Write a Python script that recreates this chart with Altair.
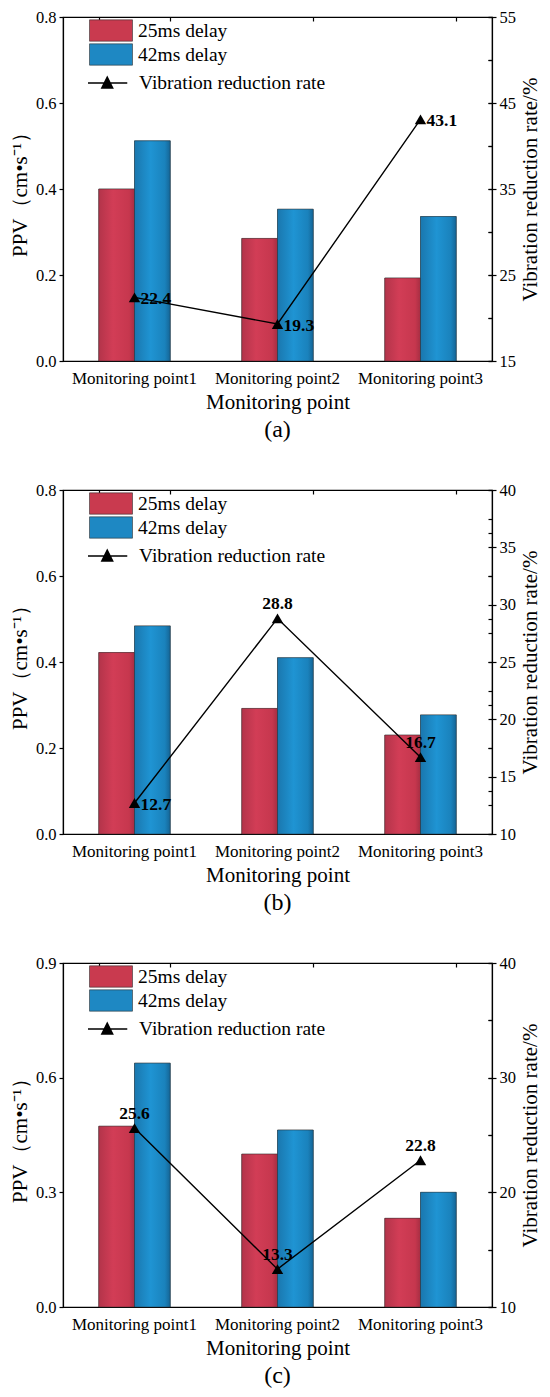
import altair as alt
import pandas as pd

categories = ["Monitoring point1", "Monitoring point2", "Monitoring point3"]
series = ["25ms delay", "42ms delay"]
line_name = "Vibration reduction rate"

# panel (a)
ppv_a_25 = [0.400, 0.285, 0.193]
ppv_a_42 = [0.512, 0.353, 0.336]
rate_a = [22.4, 19.3, 43.1]
# panel (b)
ppv_b_25 = [0.422, 0.292, 0.230]
ppv_b_42 = [0.484, 0.410, 0.277]
rate_b = [12.7, 28.8, 16.7]
# panel (c)
ppv_c_25 = [0.473, 0.400, 0.232]
ppv_c_42 = [0.638, 0.463, 0.300]
rate_c = [25.6, 13.3, 22.8]

# axis ticks (major, and inner ticks incl. minor)
ppv_ticks_ab = [0.0, 0.2, 0.4, 0.6, 0.8]
ppv_inner_ab = [0.0, 0.1, 0.2, 0.3, 0.4, 0.5, 0.6, 0.7, 0.8]
ppv_ticks_c = [0.0, 0.3, 0.6, 0.9]
ppv_inner_c = [0.0, 0.15, 0.3, 0.45, 0.6, 0.75, 0.9]
rate_ticks_a = [15, 25, 35, 45, 55]
rate_inner_a = [15, 20, 25, 30, 35, 40, 45, 50, 55]
rate_ticks_b = [10, 15, 20, 25, 30, 35, 40]
rate_inner_b = [10, 12.5, 15, 17.5, 20, 22.5, 25, 27.5, 30, 32.5, 35, 37.5, 40]
rate_ticks_c = [10, 20, 30, 40]
rate_inner_c = [10, 15, 20, 25, 30, 35, 40]

# label placement (style)
sides_a = ["right", "right", "right"]
sides_b = ["right", "above", "above"]
sides_c = ["above", "above", "above"]

SERIF = "Liberation Serif"
RED = "#C93A4F"
BLUE = "#1E88C3"
GRAD_RED = {"gradient": "linear", "x1": 0, "x2": 1, "y1": 0, "y2": 0,
            "stops": [{"offset": 0, "color": "#B3344A"}, {"offset": 0.4, "color": "#D23D56"},
                      {"offset": 0.85, "color": "#C6374E"}, {"offset": 1, "color": "#A62E42"}]}
GRAD_BLUE = {"gradient": "linear", "x1": 0, "x2": 1, "y1": 0, "y2": 0,
             "stops": [{"offset": 0, "color": "#1A77AE"}, {"offset": 0.45, "color": "#1F94D3"},
                       {"offset": 0.85, "color": "#1A82BC"}, {"offset": 1, "color": "#156596"}]}
W, H = 429, 344
X_SCALE = alt.Scale(paddingInner=0.5, paddingOuter=0.25)


def inner_axis(**kw):
    return alt.Axis(title=None, labels=False, domain=False, grid=False,
                    tickSize=4, offset=-4, **kw)


def panel(p25, p42, rate, ppv_ticks, ppv_inner, rate_ticks, rate_inner, sides, caption):
    bars_df = pd.DataFrame({
        "category": categories * 2,
        "series": [series[0]] * 3 + [series[1]] * 3,
        "value": list(p25) + list(p42),
    })
    rate_df = pd.DataFrame({
        "category": categories,
        "rate": rate,
        "name": [line_name] * 3,
        "side": sides,
    })
    ydom = alt.Scale(domain=[ppv_ticks[0], ppv_ticks[-1]], nice=False, zero=True)
    bars = alt.Chart(bars_df).mark_bar(
        stroke="#2a2a2a", strokeWidth=0.6, strokeOpacity=0.7
    ).encode(
        x=alt.X("category:N", sort=categories, scale=X_SCALE,
                axis=alt.Axis(title="Monitoring point", labelAngle=0, ticks=False,
                              labelPadding=9, titlePadding=5, labelFontSize=17)),
        xOffset=alt.XOffset("series:N", sort=series),
        y=alt.Y("value:Q", scale=ydom,
                axis=alt.Axis(title="PPV（cm•s⁻¹）", values=ppv_ticks, format=".1f",
                              tickSize=4, labelPadding=3, titlePadding=5)),
        fill=alt.Fill("series:N",
                      scale=alt.Scale(domain=series, range=[RED, BLUE]),
                      legend=alt.Legend(title=None, orient="none", legendX=26, legendY=2,
                                        symbolType="M-1,-0.97H2.91V0.97H-1Z", symbolSize=484,
                                        symbolStrokeColor="#333", symbolStrokeWidth=0.6,
                                        labelFont=SERIF, labelFontSize=19.5, labelColor="black",
                                        labelOffset=26, rowPadding=-1, labelLimit=400)),
    )
    bars_shade = alt.Chart(bars_df).mark_bar(
        stroke="#2a2a2a", strokeWidth=0.6, strokeOpacity=0.7
    ).encode(
        x=alt.X("category:N", sort=categories, scale=X_SCALE,
                axis=inner_axis(tickBand="extent")),
        xOffset=alt.XOffset("series:N", sort=series),
        y=alt.Y("value:Q", scale=ydom, axis=inner_axis(values=ppv_inner)),
        fill=alt.condition(alt.datum.series == series[0], alt.value(GRAD_RED), alt.value(GRAD_BLUE)),
    )
    rdom = alt.Scale(domain=[rate_ticks[0], rate_ticks[-1]], nice=False, zero=False)
    x_plain = alt.X("category:N", sort=categories, axis=None)
    y_rate = alt.Y("rate:Q", scale=rdom, axis=None)
    line = alt.Chart(rate_df).mark_line(color="black", strokeWidth=1.4).encode(
        x=x_plain,
        y=alt.Y("rate:Q", scale=rdom,
                axis=alt.Axis(orient="right", title="Vibration reduction rate/%",
                              titleAngle=270, titleBaseline="top", values=rate_ticks, tickSize=4,
                              labelPadding=3, titlePadding=4)))
    rticks = alt.Chart(rate_df).mark_point(opacity=0).encode(
        x=x_plain,
        y=alt.Y("rate:Q", scale=rdom, axis=inner_axis(orient="right", values=rate_inner)))
    pts = alt.Chart(rate_df).mark_point(filled=True, shape="triangle-up", size=130, opacity=1).encode(
        x=x_plain, y=y_rate,
        color=alt.Color("name:N",
                        scale=alt.Scale(domain=[line_name], range=["black"]),
                        legend=alt.Legend(title=None, orient="none", legendX=24, legendY=54,
                                          symbolType="M-1,0H2.57M0.25,0.45L0.75,-0.55L1.25,0.45Z",
                                          symbolSize=484, symbolStrokeColor="black",
                                          symbolStrokeWidth=1.4, symbolFillColor="black",
                                          labelFont=SERIF, labelFontSize=19.5, labelColor="black",
                                          labelOffset=28, labelLimit=400)))
    txt_right = alt.Chart(rate_df).transform_filter(alt.datum.side == "right").mark_text(
        align="left", baseline="middle", dx=6, dy=2, font=SERIF, fontSize=17.5,
        fontWeight="bold", color="black").encode(
        x=x_plain, y=y_rate, text=alt.Text("rate:Q", format=".1f"))
    txt_above = alt.Chart(rate_df).transform_filter(alt.datum.side == "above").mark_text(
        align="center", baseline="middle", dy=-14, font=SERIF, fontSize=17.5,
        fontWeight="bold", color="black").encode(
        x=x_plain, y=y_rate, text=alt.Text("rate:Q", format=".1f"))
    left = alt.layer(bars, bars_shade).resolve_axis(x="independent", y="independent")
    right = alt.layer(line, rticks, pts, txt_right, txt_above).resolve_axis(y="independent")
    return alt.layer(left, right).resolve_scale(y="independent").properties(
        width=W, height=H,
        title=alt.TitleParams(caption, orient="bottom", font=SERIF, fontSize=24,
                              fontWeight="normal", color="black", offset=6),
    )


pa = panel(ppv_a_25, ppv_a_42, rate_a, ppv_ticks_ab, ppv_inner_ab, rate_ticks_a, rate_inner_a, sides_a, "(a)")
pb = panel(ppv_b_25, ppv_b_42, rate_b, ppv_ticks_ab, ppv_inner_ab, rate_ticks_b, rate_inner_b, sides_b, "(b)")
pc = panel(ppv_c_25, ppv_c_42, rate_c, ppv_ticks_c, ppv_inner_c, rate_ticks_c, rate_inner_c, sides_c, "(c)")

chart = alt.vconcat(pa, pb, pc, spacing=38).resolve_scale(fill="independent", color="independent").configure(
    padding={"left": 0, "top": 0, "right": 0, "bottom": 0},
    background="white",
).configure_view(
    stroke="black", strokeWidth=1.2,
).configure_axis(
    domainColor="black", domainWidth=1.2, tickColor="black", tickWidth=1.2,
    labelFont=SERIF, labelFontSize=16.5, labelColor="black",
    titleFont=SERIF, titleFontSize=21, titleFontWeight="normal", titleColor="black",
    grid=False,
).configure_legend(
    labelFont=SERIF, labelFontSize=19.5, labelColor="black", labelLimit=400,
)

chart.save("out.html", embed_options={"renderer": "svg", "actions": False})
